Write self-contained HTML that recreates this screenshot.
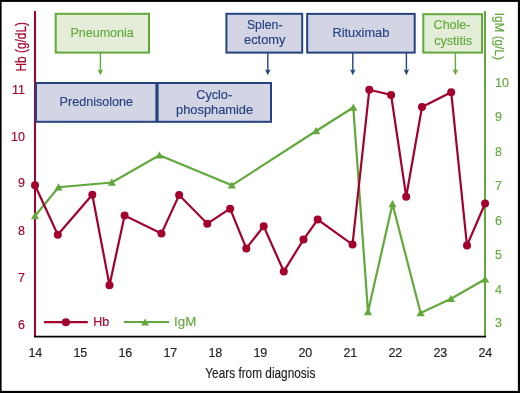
<!DOCTYPE html><html><head><meta charset="utf-8"><style>html,body{margin:0;padding:0;background:#fff}body{width:520px;height:393px;overflow:hidden}svg{display:block}text{font-family:"Liberation Sans", Arial, sans-serif}</style></head><body>
<svg width="520" height="393" viewBox="0 0 520 393">
<rect x="0" y="0" width="520" height="393" fill="#fff"/>
<line x1="35" y1="11" x2="35" y2="336.5" stroke="#a3002e" stroke-width="2"/>
<line x1="485" y1="11" x2="485" y2="336.5" stroke="#62a83c" stroke-width="2"/>
<line x1="34" y1="336.6" x2="486" y2="336.6" stroke="#000" stroke-width="1.6"/>
<rect x="55.70" y="13.80" width="93.30" height="38.80" fill="#e3edd8" stroke="#62a83c" stroke-width="2"/>
<rect x="226.40" y="13.80" width="75.80" height="38.80" fill="#d3d4e4" stroke="#24437f" stroke-width="2"/>
<rect x="307.20" y="13.90" width="107.50" height="38.70" fill="#d3d4e4" stroke="#24437f" stroke-width="2"/>
<rect x="423.30" y="14.20" width="58.70" height="38.40" fill="#e3edd8" stroke="#62a83c" stroke-width="2"/>
<rect x="36.00" y="83.00" width="120.40" height="38.80" fill="#d3d4e4" stroke="#24437f" stroke-width="2"/>
<rect x="157.60" y="83.00" width="113.40" height="38.80" fill="#d3d4e4" stroke="#24437f" stroke-width="2"/>
<line x1="100.4" y1="53" x2="100.4" y2="72.2" stroke="#62a83c" stroke-width="1.4"/><path d="M100.4,75.2 L97.60000000000001,69.2 L100.4,70.4 L103.2,69.2 Z" fill="#62a83c"/>
<line x1="267.8" y1="53" x2="267.8" y2="72.2" stroke="#24437f" stroke-width="1.4"/><path d="M267.8,75.2 L265.0,69.2 L267.8,70.4 L270.6,69.2 Z" fill="#24437f"/>
<line x1="352.8" y1="53" x2="352.8" y2="72.2" stroke="#24437f" stroke-width="1.4"/><path d="M352.8,75.2 L350.0,69.2 L352.8,70.4 L355.6,69.2 Z" fill="#24437f"/>
<line x1="406.4" y1="53" x2="406.4" y2="72.2" stroke="#24437f" stroke-width="1.4"/><path d="M406.4,75.2 L403.59999999999997,69.2 L406.4,70.4 L409.2,69.2 Z" fill="#24437f"/>
<line x1="455.4" y1="53" x2="455.4" y2="72.2" stroke="#62a83c" stroke-width="1.4"/><path d="M455.4,75.2 L452.59999999999997,69.2 L455.4,70.4 L458.2,69.2 Z" fill="#62a83c"/>
<text x="70.4" y="36.8" font-size="13.3" fill="#64a83e" text-anchor="start" textLength="63.4" lengthAdjust="spacingAndGlyphs" stroke="#64a83e" stroke-width="0.15">Pneumonia</text>
<text x="59.6" y="106" font-size="13.3" fill="#24437f" text-anchor="start" textLength="73.4" lengthAdjust="spacingAndGlyphs" stroke="#24437f" stroke-width="0.15">Prednisolone</text>
<text x="196.3" y="98.8" font-size="13.3" fill="#24437f" text-anchor="start" textLength="35.8" lengthAdjust="spacingAndGlyphs" stroke="#24437f" stroke-width="0.15">Cyclo-</text>
<text x="176.1" y="113.7" font-size="13.3" fill="#24437f" text-anchor="start" textLength="77" lengthAdjust="spacingAndGlyphs" stroke="#24437f" stroke-width="0.15">phosphamide</text>
<text x="246.9" y="29.0" font-size="13.3" fill="#24437f" text-anchor="start" textLength="35.6" lengthAdjust="spacingAndGlyphs" stroke="#24437f" stroke-width="0.15">Splen-</text>
<text x="244" y="43.9" font-size="13.3" fill="#24437f" text-anchor="start" textLength="41.4" lengthAdjust="spacingAndGlyphs" stroke="#24437f" stroke-width="0.15">ectomy</text>
<text x="332.5" y="36.8" font-size="13.3" fill="#24437f" text-anchor="start" textLength="56.8" lengthAdjust="spacingAndGlyphs" stroke="#24437f" stroke-width="0.15">Rituximab</text>
<text x="433.6" y="29.2" font-size="13.3" fill="#64a83e" text-anchor="start" textLength="36.9" lengthAdjust="spacingAndGlyphs" stroke="#64a83e" stroke-width="0.15">Chole-</text>
<text x="434.2" y="44.6" font-size="13.3" fill="#64a83e" text-anchor="start" textLength="37.8" lengthAdjust="spacingAndGlyphs" stroke="#64a83e" stroke-width="0.15">cystitis</text>
<text x="25" y="93.9" font-size="12.5" fill="#a3002e" text-anchor="end" stroke="#a3002e" stroke-width="0.15">11</text>
<text x="25" y="140.6" font-size="12.5" fill="#a3002e" text-anchor="end" stroke="#a3002e" stroke-width="0.15">10</text>
<text x="25" y="187.4" font-size="12.5" fill="#a3002e" text-anchor="end" stroke="#a3002e" stroke-width="0.15">9</text>
<text x="25" y="234.9" font-size="12.5" fill="#a3002e" text-anchor="end" stroke="#a3002e" stroke-width="0.15">8</text>
<text x="25" y="282.1" font-size="12.5" fill="#a3002e" text-anchor="end" stroke="#a3002e" stroke-width="0.15">7</text>
<text x="25" y="329.4" font-size="12.5" fill="#a3002e" text-anchor="end" stroke="#a3002e" stroke-width="0.15">6</text>
<text x="495" y="87.3" font-size="12.5" fill="#64a83e" text-anchor="start" stroke="#64a83e" stroke-width="0.15">10</text>
<text x="495" y="121.4" font-size="12.5" fill="#64a83e" text-anchor="start" stroke="#64a83e" stroke-width="0.15">9</text>
<text x="495" y="155.8" font-size="12.5" fill="#64a83e" text-anchor="start" stroke="#64a83e" stroke-width="0.15">8</text>
<text x="495" y="190.3" font-size="12.5" fill="#64a83e" text-anchor="start" stroke="#64a83e" stroke-width="0.15">7</text>
<text x="495" y="224.5" font-size="12.5" fill="#64a83e" text-anchor="start" stroke="#64a83e" stroke-width="0.15">6</text>
<text x="495" y="258.7" font-size="12.5" fill="#64a83e" text-anchor="start" stroke="#64a83e" stroke-width="0.15">5</text>
<text x="495" y="293.5" font-size="12.5" fill="#64a83e" text-anchor="start" stroke="#64a83e" stroke-width="0.15">4</text>
<text x="495" y="327.2" font-size="12.5" fill="#64a83e" text-anchor="start" stroke="#64a83e" stroke-width="0.15">3</text>
<text x="35.35" y="357" font-size="12.5" fill="#222" text-anchor="middle" stroke="#222" stroke-width="0.15">14</text>
<text x="80.35" y="357" font-size="12.5" fill="#222" text-anchor="middle" stroke="#222" stroke-width="0.15">15</text>
<text x="125.35" y="357" font-size="12.5" fill="#222" text-anchor="middle" stroke="#222" stroke-width="0.15">16</text>
<text x="170.35" y="357" font-size="12.5" fill="#222" text-anchor="middle" stroke="#222" stroke-width="0.15">17</text>
<text x="215.35" y="357" font-size="12.5" fill="#222" text-anchor="middle" stroke="#222" stroke-width="0.15">18</text>
<text x="260.35" y="357" font-size="12.5" fill="#222" text-anchor="middle" stroke="#222" stroke-width="0.15">19</text>
<text x="305.35" y="357" font-size="12.5" fill="#222" text-anchor="middle" stroke="#222" stroke-width="0.15">20</text>
<text x="350.35" y="357" font-size="12.5" fill="#222" text-anchor="middle" stroke="#222" stroke-width="0.15">21</text>
<text x="395.35" y="357" font-size="12.5" fill="#222" text-anchor="middle" stroke="#222" stroke-width="0.15">22</text>
<text x="440.35" y="357" font-size="12.5" fill="#222" text-anchor="middle" stroke="#222" stroke-width="0.15">23</text>
<text x="485.35" y="357" font-size="12.5" fill="#222" text-anchor="middle" stroke="#222" stroke-width="0.15">24</text>
<text x="205.3" y="377.8" font-size="15.5" fill="#1a1a1a" text-anchor="start" textLength="110" lengthAdjust="spacingAndGlyphs" stroke="#1a1a1a" stroke-width="0.15">Years from diagnosis</text>
<text transform="translate(25.9,71.5) rotate(-90)" font-size="14.4" fill="#a3002e" stroke="#a3002e" stroke-width="0.2" textLength="49.5" lengthAdjust="spacingAndGlyphs">Hb (g/dL)</text>
<text transform="translate(495.2,12.8) rotate(90)" font-size="13.5" fill="#64a83e" stroke="#64a83e" stroke-width="0.2" textLength="47" lengthAdjust="spacingAndGlyphs">IgM (g/L)</text>
<polyline points="35,216 58.5,187.2 111.8,182.5 159.4,155.3 231.9,185.3 316.1,131 353.3,107.5 368,312 392.5,204 420.6,313 451,298.8 485.1,279.2" fill="none" stroke="#62a83c" stroke-width="2.2" stroke-linejoin="miter"/>
<polygon points="35,212.10 30.90,219.30 39.10,219.30" fill="#62a83c"/>
<polygon points="58.5,183.30 54.40,190.50 62.60,190.50" fill="#62a83c"/>
<polygon points="111.8,178.60 107.70,185.80 115.90,185.80" fill="#62a83c"/>
<polygon points="159.4,151.40 155.30,158.60 163.50,158.60" fill="#62a83c"/>
<polygon points="231.9,181.40 227.80,188.60 236.00,188.60" fill="#62a83c"/>
<polygon points="316.1,127.10 312.00,134.30 320.20,134.30" fill="#62a83c"/>
<polygon points="353.3,103.60 349.20,110.80 357.40,110.80" fill="#62a83c"/>
<polygon points="368,308.10 363.90,315.30 372.10,315.30" fill="#62a83c"/>
<polygon points="392.5,200.10 388.40,207.30 396.60,207.30" fill="#62a83c"/>
<polygon points="420.6,309.10 416.50,316.30 424.70,316.30" fill="#62a83c"/>
<polygon points="451,294.90 446.90,302.10 455.10,302.10" fill="#62a83c"/>
<polygon points="485.1,275.30 481.00,282.50 489.20,282.50" fill="#62a83c"/>
<polyline points="35,185.2 57.8,234.8 92.3,194.8 109.5,285.2 124.6,215.6 161.4,233.6 179.1,195.1 207.3,223.7 230.1,208.7 246.3,248.4 263.7,226.3 283.8,271.4 303.5,239.6 317.7,219.6 352.5,244.6 369.3,89.8 391.1,95 406.2,196.7 422,107 451.2,92.2 467,245.5 485.1,203.5" fill="none" stroke="#a3002e" stroke-width="2.2" stroke-linejoin="miter"/>
<circle cx="35" cy="185.2" r="4" fill="#a3002e"/>
<circle cx="57.8" cy="234.8" r="4" fill="#a3002e"/>
<circle cx="92.3" cy="194.8" r="4" fill="#a3002e"/>
<circle cx="109.5" cy="285.2" r="4" fill="#a3002e"/>
<circle cx="124.6" cy="215.6" r="4" fill="#a3002e"/>
<circle cx="161.4" cy="233.6" r="4" fill="#a3002e"/>
<circle cx="179.1" cy="195.1" r="4" fill="#a3002e"/>
<circle cx="207.3" cy="223.7" r="4" fill="#a3002e"/>
<circle cx="230.1" cy="208.7" r="4" fill="#a3002e"/>
<circle cx="246.3" cy="248.4" r="4" fill="#a3002e"/>
<circle cx="263.7" cy="226.3" r="4" fill="#a3002e"/>
<circle cx="283.8" cy="271.4" r="4" fill="#a3002e"/>
<circle cx="303.5" cy="239.6" r="4" fill="#a3002e"/>
<circle cx="317.7" cy="219.6" r="4" fill="#a3002e"/>
<circle cx="352.5" cy="244.6" r="4" fill="#a3002e"/>
<circle cx="369.3" cy="89.8" r="4" fill="#a3002e"/>
<circle cx="391.1" cy="95" r="4" fill="#a3002e"/>
<circle cx="406.2" cy="196.7" r="4" fill="#a3002e"/>
<circle cx="422" cy="107" r="4" fill="#a3002e"/>
<circle cx="451.2" cy="92.2" r="4" fill="#a3002e"/>
<circle cx="467" cy="245.5" r="4" fill="#a3002e"/>
<circle cx="485.1" cy="203.5" r="4" fill="#a3002e"/>
<line x1="43.9" y1="322.2" x2="87.8" y2="322.2" stroke="#a3002e" stroke-width="2.2"/>
<circle cx="65.9" cy="322.3" r="4" fill="#a3002e"/>
<text x="93.3" y="326.2" font-size="13.5" fill="#a3002e" text-anchor="start" textLength="16" lengthAdjust="spacingAndGlyphs" stroke="#a3002e" stroke-width="0.15">Hb</text>
<line x1="123.8" y1="322" x2="169" y2="322" stroke="#62a83c" stroke-width="2.2"/>
<polygon points="145.1,318.43 141.20,325.43 149.00,325.43" fill="#62a83c"/>
<text x="174" y="326.2" font-size="13.5" fill="#64a83e" text-anchor="start" textLength="22.3" lengthAdjust="spacingAndGlyphs" stroke="#64a83e" stroke-width="0.15">IgM</text>
<rect x="0" y="0" width="520" height="1.9" fill="#000"/>
<rect x="0" y="0" width="1.6" height="393" fill="#000"/>
<rect x="517.9" y="0" width="2.1" height="393" fill="#000"/>
<rect x="0" y="390.9" width="520" height="2.1" fill="#000"/>
</svg></body></html>
